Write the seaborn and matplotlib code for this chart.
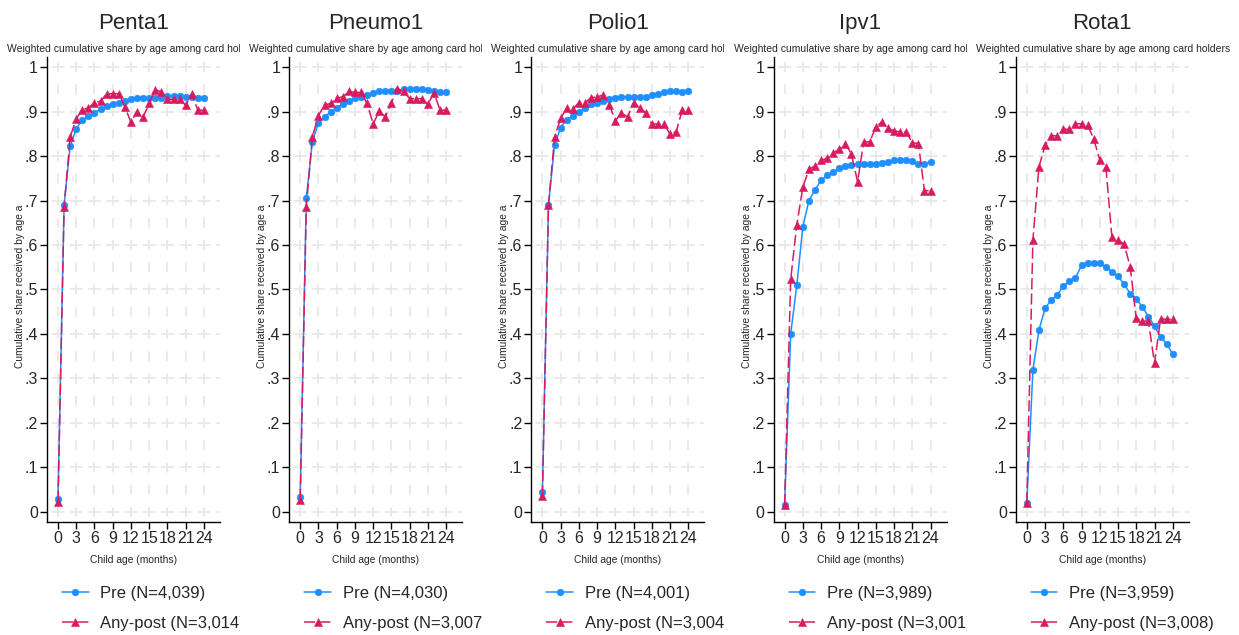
import numpy as np
import pandas as pd
import matplotlib
matplotlib.use("Agg")
import matplotlib.pyplot as plt
import seaborn as sns
from matplotlib.transforms import Bbox

# ---------------- data ----------------
months = list(range(25))
vaccines = ["Penta1", "Pneumo1", "Polio1", "Ipv1", "Rota1"]
pre_n = ["4,039", "4,030", "4,001", "3,989", "3,959"]
post_n = ["3,014", "3,007", "3,004", "3,001", "3,008"]

penta1_pre = [0.030, 0.690, 0.822, 0.861, 0.882, 0.889, 0.897, 0.906, 0.912, 0.916, 0.920, 0.923, 0.927,
              0.931, 0.931, 0.931, 0.931, 0.931, 0.935, 0.935, 0.935, 0.933, 0.933, 0.931, 0.931]
penta1_post = [0.023, 0.685, 0.843, 0.884, 0.904, 0.908, 0.920, 0.923, 0.940, 0.940, 0.940, 0.910, 0.876,
               0.900, 0.887, 0.919, 0.949, 0.944, 0.927, 0.927, 0.927, 0.914, 0.940, 0.903, 0.903]

pneumo1_pre = [0.033, 0.705, 0.832, 0.875, 0.888, 0.899, 0.909, 0.917, 0.924, 0.930, 0.933, 0.938, 0.942,
               0.947, 0.947, 0.947, 0.947, 0.950, 0.950, 0.950, 0.950, 0.948, 0.945, 0.944, 0.944]
pneumo1_post = [0.027, 0.685, 0.843, 0.891, 0.915, 0.918, 0.930, 0.933, 0.945, 0.943, 0.943, 0.918, 0.872,
                0.901, 0.888, 0.920, 0.950, 0.945, 0.929, 0.929, 0.929, 0.916, 0.942, 0.903, 0.903]

polio1_pre = [0.045, 0.690, 0.825, 0.864, 0.882, 0.890, 0.898, 0.909, 0.916, 0.920, 0.924, 0.927, 0.931,
              0.933, 0.933, 0.933, 0.933, 0.933, 0.937, 0.939, 0.943, 0.945, 0.945, 0.943, 0.945]
polio1_post = [0.035, 0.690, 0.842, 0.885, 0.907, 0.906, 0.920, 0.920, 0.931, 0.933, 0.937, 0.915, 0.879,
               0.897, 0.888, 0.920, 0.909, 0.897, 0.872, 0.872, 0.872, 0.849, 0.855, 0.903, 0.903]

ipv1_pre = [0.015, 0.400, 0.509, 0.641, 0.700, 0.724, 0.745, 0.757, 0.764, 0.772, 0.777, 0.780, 0.783,
            0.782, 0.781, 0.782, 0.785, 0.786, 0.790, 0.792, 0.792, 0.789, 0.781, 0.783, 0.787]
ipv1_post = [0.015, 0.523, 0.645, 0.730, 0.770, 0.778, 0.790, 0.795, 0.807, 0.815, 0.828, 0.804, 0.742,
             0.831, 0.832, 0.865, 0.877, 0.862, 0.857, 0.854, 0.854, 0.830, 0.828, 0.722, 0.722]

rota1_pre = [0.020, 0.319, 0.409, 0.458, 0.476, 0.487, 0.508, 0.518, 0.526, 0.554, 0.559, 0.559, 0.559,
             0.551, 0.539, 0.530, 0.512, 0.491, 0.479, 0.461, 0.439, 0.418, 0.393, 0.378, 0.355]
rota1_post = [0.020, 0.611, 0.776, 0.824, 0.846, 0.845, 0.860, 0.860, 0.873, 0.872, 0.869, 0.839, 0.791,
              0.776, 0.617, 0.611, 0.602, 0.551, 0.435, 0.429, 0.429, 0.334, 0.434, 0.433, 0.433]

pre_series = [penta1_pre, pneumo1_pre, polio1_pre, ipv1_pre, rota1_pre]
post_series = [penta1_post, pneumo1_post, polio1_post, ipv1_post, rota1_post]

xticks = [0, 3, 6, 9, 12, 15, 18, 21, 24]
xtick_labels = ["0", "3", "6", "9", "12", "15", "18", "21", "24"]
yticks = [0.0, 0.1, 0.2, 0.3, 0.4, 0.5, 0.6, 0.7, 0.8, 0.9, 1.0]
ytick_labels = ["0", ".1", ".2", ".3", ".4", ".5", ".6", ".7", ".8", ".9", "1"]

subtitle = "Weighted cumulative share by age among card holders"
xlabel = "Child age (months)"
ylabel = "Cumulative share received by age a"

# ---------------- style ----------------
sns.set_style("ticks")
plt.rcParams["font.family"] = ["Liberation Sans", "DejaVu Sans"]
plt.rcParams["lines.scale_dashes"] = False

BLUE = "#1E8FFF"
RED = "#D81B60"
GRID = "#E8E8E8"

W, H = 1239, 635
fig = plt.figure(figsize=(W / 100, H / 100), dpi=100)

ax_left0 = 47.0
ax_step = 242.2
ax_w, ax_h = 173.0, 465.0
ax_top = 57.0
xlim = (-1.81, 26.64)
ylim = (-0.0225, 1.0225)
ppx = ax_w / (xlim[1] - xlim[0])
ppy = ax_h / (ylim[1] - ylim[0])


def dash_style(dist0, period, dash):
    off = (-(dist0 - dash / 2.0)) % period
    k = 72.0 / 100.0
    return (off * k, (dash * k, (period - dash) * k))


vgrid = dash_style((0 - ylim[0]) * ppy, 0.05 * ppy, 10.0)
hgrid = dash_style((0 - xlim[0]) * ppx, 3 * ppx, 13.0)

for i, name in enumerate(vaccines):
    left_px = ax_left0 + ax_step * i
    ax = fig.add_axes([left_px / W, 1 - (ax_top + ax_h) / H, ax_w / W, ax_h / H])

    pre_label = f"Pre (N={pre_n[i]})"
    post_label = f"Any-post (N={post_n[i]})"
    df = pd.DataFrame({
        "month": months + months,
        "share": pre_series[i] + post_series[i],
        "group": [pre_label] * len(months) + [post_label] * len(months),
    })
    sns.lineplot(data=df, x="month", y="share", hue="group", style="group",
                 hue_order=[pre_label, post_label], style_order=[pre_label, post_label],
                 palette=[BLUE, RED], markers=["o", "^"], dashes=["", (8, 3)],
                 markersize=5, markeredgecolor=None, markeredgewidth=0.4,
                 linewidth=1.1, errorbar=None, legend=False, ax=ax)
    lines = ax.get_lines()[:2]
    lines[0].set_markersize(4.8)
    lines[1].set_markersize(6.2)

    ax.set_xlim(*xlim)
    ax.set_ylim(*ylim)
    ax.set_xticks(xticks)
    ax.set_xticklabels(xtick_labels)
    ax.set_yticks(yticks)
    ax.set_yticklabels(ytick_labels)
    ax.set_xlabel("")
    ax.set_ylabel("")
    ax.tick_params(axis="both", length=5, width=1.0, color="black", labelsize=11.5,
                   direction="out")
    ax.tick_params(axis="x", pad=1.2)
    ax.tick_params(axis="y", pad=1.5)
    for s in ["top", "right"]:
        ax.spines[s].set_visible(False)
    for s in ["left", "bottom"]:
        ax.spines[s].set_linewidth(1.0)
        ax.spines[s].set_color("black")
    ax.set_axisbelow(True)
    ax.xaxis.grid(True, linestyle=vgrid, color=GRID, linewidth=1.3)
    ax.yaxis.grid(True, linestyle=hgrid, color=GRID, linewidth=1.3)

    clip_right = 240.0 + ax_step * i if i < 4 else W
    clip_left = ax_step * i - 2
    clipbox = Bbox.from_extents(clip_left, 0, clip_right, H)

    cx = left_px + ax_w / 2
    fig.text(cx / W, 1 - 29 / H, name, ha="center", va="baseline", fontsize=16)
    st = fig.text((7 + ax_step * i) / W, 1 - 52 / H, subtitle, ha="left", va="baseline",
                  fontsize=7.5)
    st.set_clip_box(clipbox)
    st.set_clip_on(True)
    fig.text(cx / W, 1 - 560 / H, xlabel, ha="center", va="center", fontsize=7.4)
    fig.text((left_px - 27) / W, 1 - 286 / H, ylabel, ha="center", va="center",
             rotation=90, fontsize=7.4)

    leg = ax.legend(handles=lines, labels=[pre_label, post_label], loc="upper left",
                    bbox_to_anchor=((left_px + 15) / W, 1 - 586 / H),
                    bbox_transform=fig.transFigure, frameon=False, fontsize=12,
                    handlelength=1.6, handletextpad=0.7, labelspacing=0.9,
                    borderpad=0, borderaxespad=0, numpoints=1)
    for t in leg.get_texts():
        t.set_clip_box(clipbox)
        t.set_clip_on(True)

fig.savefig("out.png", dpi=100)
